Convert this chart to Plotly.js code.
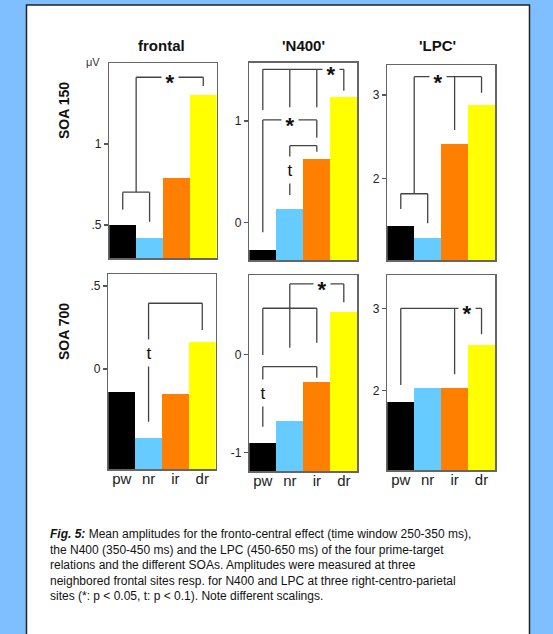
<!DOCTYPE html>
<html>
<head>
<meta charset="utf-8">
<script src="https://cdn.plot.ly/plotly-3.0.1.min.js"></script>
<style>html,body{margin:0;padding:0;background:#80bfff;}#chart{width:553px;height:634px;}</style>
</head>
<body>
<div id="chart"></div>
<script>
// ---- data ----
const categories = ['pw', 'nr', 'ir', 'dr'];
const panelTitles = ['frontal', "'N400'", "'LPC'"];
const rowLabels = ['SOA 150', 'SOA 700'];

const frontal150 = [0.50, 0.42, 0.79, 1.30];
const n400_150   = [-0.27, 0.13, 0.625, 1.24];
const lpc150     = [1.43, 1.29, 2.41, 2.88];
const frontal700 = [-0.14, -0.415, -0.15, 0.165];
const n400_700   = [-0.905, -0.68, -0.28, 0.43];
const lpc700     = [1.86, 2.03, 2.03, 2.55];

const tickVals150 = [[0.5, 1], [0, 1], [2, 3]];
const tickText150 = [['.5', '1'], ['0', '1'], ['2', '3']];
const tickVals700 = [[0, 0.5], [-1, 0], [2, 3]];
const tickText700 = [['0', '.5'], ['-1', '0'], ['2', '3']];

const caption = '<b><i>Fig. 5:</i></b> Mean amplitudes for the fronto-central effect (time window 250-350 ms),<br>' +
  'the N400 (350-450 ms) and the LPC (450-650 ms) of the four prime-target<br>' +
  'relations and the different SOAs. Amplitudes were measured at three<br>' +
  'neighbored frontal sites resp. for N400 and LPC at three right-centro-parietal<br>' +
  'sites (*: p &lt; 0.05, t: p &lt; 0.1). Note different scalings.';

// significance brackets (category index, value) and their labels
const brackets = [
  { lines: [[[0,0.593],[0,0.702],[1,0.702],[1,0.519]], [[0.5,0.702],[0.5,1.412],[3,1.412],[3,1.358]]],
    marks: [[1.76,1.412,'*']] },
  { lines: [[[0,1.109],[0,1.51],[3,1.51],[3,1.299]], [[1,1.51],[1,1.135]], [[2,1.51],[2,1.135]],
            [[0,-0.099],[0,1.01],[2,1.01],[2,0.835]], [[1,0.27],[1,0.756],[2,0.756],[2,0.697]]],
    marks: [[2.53,1.51,'*'], [1.0,1.01,'*'], [1,0.515,'t']] },
  { lines: [[[0,1.631],[0,1.815],[1,1.815],[1,1.46]], [[0.5,1.815],[0.5,3.22],[3,3.22],[3,3.028]], [[2,3.22],[2,2.58]]],
    marks: [[1.4,3.22,'*']] },
  { lines: [[[1,-0.317],[1,0.396],[3,0.396],[3,0.235]]],
    marks: [[1,0.095,'t']] },
  { lines: [[[1,0.067],[1,0.715],[3,0.715],[3,0.529]], [[0,-0.007],[0,0.468],[2,0.468],[2,0.118]],
            [[0,-0.737],[0,-0.126],[2,-0.126],[2,-0.238]]],
    marks: [[2.18,0.715,'*'], [0,-0.397,'t']] },
  { lines: [[[0,2.069],[0,3.0],[3,3.0],[3,2.685]], [[2,3.0],[2,2.2]]],
    marks: [[2.45,3.0,'*']] }
];

const barColors = ['#000000', '#66ccff', '#ff8000', '#ffff00'];

// ---- layout geometry (pixels) ----
const W = 553, H = 634;
const px = v => v / W, py = v => 1 - v / H;
const panels = [
  { vals: frontal150, xd: [109.3, 216.7], yd: [63.3, 258.3], range: [0.294, 1.498], tv: tickVals150[0], tt: tickText150[0] },
  { vals: n400_150,   xd: [249.3, 357.3], yd: [62.7, 260],   range: [-0.372, 1.575], tv: tickVals150[1], tt: tickText150[1] },
  { vals: lpc150,     xd: [387.3, 495],   yd: [65, 260],     range: [1.02, 3.36],   tv: tickVals150[2], tt: tickText150[2] },
  { vals: frontal700, xd: [108.3, 215.7], yd: [274, 469.3],  range: [-0.604, 0.572], tv: tickVals700[0], tt: tickText700[0] },
  { vals: n400_700,   xd: [249.3, 357.3], yd: [275, 471],    range: [-1.186, 0.806], tv: tickVals700[1], tt: tickText700[1] },
  { vals: lpc700,     xd: [387.3, 495],   yd: [275, 470],    range: [1.036, 3.405], tv: tickVals700[2], tt: tickText700[2] }
];

const FONT = 'Arial, "Liberation Sans", sans-serif';
const traces = [];
const layout = {
  width: W, height: H,
  margin: { l: 0, r: 0, t: 0, b: 0 },
  paper_bgcolor: '#80bfff',
  plot_bgcolor: 'rgba(0,0,0,0)',
  showlegend: false,
  bargap: 0,
  font: { family: FONT, color: '#222' },
  shapes: [
    { type: 'rect', xref: 'paper', yref: 'paper', x0: px(26.5), x1: px(529.5), y0: -0.05, y1: py(5),
      fillcolor: '#ffffff', line: { color: '#222', width: 1.5 }, layer: 'below' }
  ],
  annotations: []
};

panels.forEach((p, i) => {
  const n = i + 1;
  const xa = n === 1 ? 'x' : 'x' + n;
  const ya = n === 1 ? 'y' : 'y' + n;
  const bottomRow = i >= 3;
  traces.push({
    type: 'bar', x: categories, y: p.vals.map(v => v - p.range[0]), base: p.range[0],
    marker: { color: barColors, line: { width: 0 } },
    xaxis: xa, yaxis: ya, hoverinfo: 'skip'
  });
  layout['xaxis' + (n === 1 ? '' : n)] = {
    domain: [px(p.xd[0]), px(p.xd[1])], anchor: ya, type: 'category',
    range: [-0.5, 3.5], showline: true, mirror: true, linecolor: '#666', linewidth: 1.5,
    ticks: '', showgrid: false, zeroline: false, fixedrange: true,
    showticklabels: bottomRow, ticklabelstandoff: -5,
    tickfont: { family: FONT, size: 15, color: '#222' }
  };
  layout['yaxis' + (n === 1 ? '' : n)] = {
    domain: [py(p.yd[1]), py(p.yd[0])], anchor: xa,
    range: p.range, showline: true, mirror: true, linecolor: '#666', linewidth: 1.5,
    ticks: 'outside', ticklen: 4, tickwidth: 1.2, tickcolor: '#555',
    tickvals: p.tv, ticktext: p.tt, tickfont: { family: FONT, size: 12, color: '#222' },
    showgrid: false, zeroline: false, fixedrange: true
  };
  const br = brackets[i];
  br.lines.forEach(pl => {
    for (let k = 0; k < pl.length - 1; k++) {
      layout.shapes.push({ type: 'line', xref: xa, yref: ya,
        x0: pl[k][0], y0: pl[k][1], x1: pl[k+1][0], y1: pl[k+1][1],
        line: { color: '#444', width: 1.3 } });
    }
  });
  br.marks.forEach(m => {
    const star = m[2] === '*';
    layout.annotations.push({
      xref: xa, yref: ya, x: m[0], y: m[1], text: star ? '<b>*</b>' : 't',
      xanchor: 'center', yanchor: 'middle',
      showarrow: false, bgcolor: '#ffffff', borderpad: 0,
      width: star ? 16 : 12, height: star ? 14 : 26, yshift: star ? -5 : 0,
      font: { family: FONT, size: star ? 22 : 17, color: '#111' }
    });
  });
});

// titles
const titleX = [161, 303, 437];
panelTitles.forEach((t, i) => {
  layout.annotations.push({ xref: 'paper', yref: 'paper', x: px(titleX[i]), y: py(45), text: '<b>' + t + '</b>',
    xanchor: 'center', yanchor: 'middle',
    showarrow: false, font: { family: FONT, size: 15, color: '#111' } });
});
// row labels
const rowY = [111, 332];
rowLabels.forEach((t, i) => {
  layout.annotations.push({ xref: 'paper', yref: 'paper', x: px(64), y: py(rowY[i]), text: '<b>' + t + '</b>',
    xanchor: 'center', yanchor: 'middle',
    textangle: -90, showarrow: false, font: { family: FONT, size: 14, color: '#111' } });
});
// unit
layout.annotations.push({ xref: 'paper', yref: 'paper', x: px(93), y: py(62), text: 'μV',
  xanchor: 'center', yanchor: 'middle',
  showarrow: false, font: { family: FONT, size: 11, color: '#333' } });
// caption
layout.annotations.push({ xref: 'paper', yref: 'paper', x: px(47.5), y: py(525), xanchor: 'left', yanchor: 'top',
  align: 'left', text: caption, showarrow: false, font: { family: FONT, size: 12, color: '#111' } });

Plotly.newPlot('chart', traces, layout, { staticPlot: true, displayModeBar: false });
</script>
</body>
</html>
